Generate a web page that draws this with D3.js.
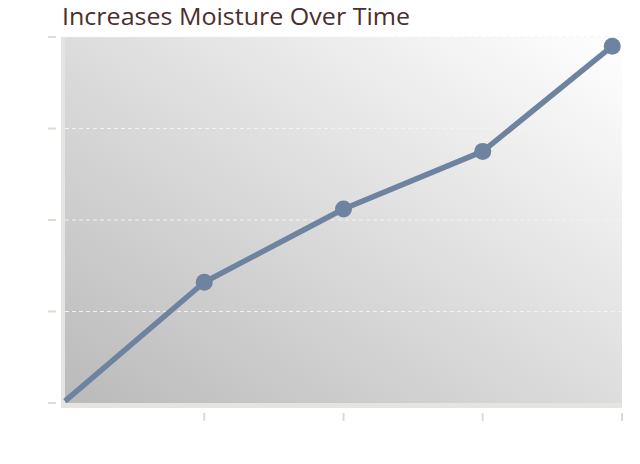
<!DOCTYPE html>
<html><head><meta charset="utf-8">
<script src="https://cdn.jsdelivr.net/npm/d3@7"></script>
<style>body{margin:0;background:#fff}svg{display:block}</style>
</head><body>
<script>
const title = "Increases Moisture Over Time";
const xValues = [0, 1, 2, 3, 3.93];
const yValues = [0.02, 1.32, 2.12, 2.75, 3.9];
const xTicks = [0, 1, 2, 3, 4];
const yTicks = [0, 1, 2, 3, 4];

const W = 640, H = 464;
const m = {left: 65, right: 18, top: 37, bottom: 61};
const svg = d3.select("body").append("svg").attr("width", W).attr("height", H);
const x = d3.scaleLinear().domain([0, 4]).range([m.left, W - m.right]);
const y = d3.scaleLinear().domain([0, 4]).range([H - m.bottom, m.top]);

const defs = svg.append("defs");
const g = defs.append("linearGradient").attr("id", "bg").attr("x1", "0").attr("y1", "1").attr("x2", "1").attr("y2", "0");
g.append("stop").attr("offset", "0").attr("stop-color", "#bababa");
g.append("stop").attr("offset", "1").attr("stop-color", "#ffffff");

svg.append("rect").attr("x", x(0)).attr("y", y(4)).attr("width", x(4) - x(0)).attr("height", y(0) - y(4)).attr("fill", "url(#bg)");

// gridlines
svg.append("g").selectAll("line").data(yTicks.slice(1)).join("line")
  .attr("x1", x(0)).attr("x2", x(4)).attr("y1", d => y(d)).attr("y2", d => y(d))
  .attr("stroke", "#f2f2f2").attr("stroke-width", 1).attr("stroke-dasharray", "4,3");

// axis bands
svg.append("rect").attr("x", x(0) - 4).attr("y", y(4)).attr("width", 4).attr("height", y(0) - y(4) + 5).attr("fill", "#e6e4e0");
svg.append("rect").attr("x", x(0) - 4).attr("y", y(0)).attr("width", x(4) - x(0) + 4).attr("height", 5).attr("fill", "#e6e4e0");

// y ticks
svg.append("g").selectAll("rect").data(yTicks).join("rect")
  .attr("x", 48).attr("y", d => y(d) - 1).attr("width", 8).attr("height", 2).attr("fill", "#dedbd6");
// x ticks
svg.append("g").selectAll("rect").data(xTicks.slice(1)).join("rect")
  .attr("x", d => x(d) - 1).attr("y", y(0) + 10).attr("width", 2).attr("height", 8).attr("fill", "#dedbd6");

const pts = xValues.map((v, i) => [v, yValues[i]]);
svg.append("path").datum(pts)
  .attr("d", d3.line().x(d => x(d[0])).y(d => y(d[1])))
  .attr("fill", "none").attr("stroke", "#6e83a0").attr("stroke-width", 5.5).attr("stroke-linejoin", "round");
svg.append("g").selectAll("circle").data(pts.slice(1)).join("circle")
  .attr("cx", d => x(d[0])).attr("cy", d => y(d[1])).attr("r", 8.5).attr("fill", "#6e83a0");

svg.append("text").attr("x", 62).attr("y", 25).text(title)
  .attr("font-family", "'Open Sans', sans-serif").attr("font-size", 24).attr("font-weight", 500)
  .attr("textLength", 348).attr("lengthAdjust", "spacingAndGlyphs")
  .attr("fill", "#4b2e2e");
</script>
</body></html>
